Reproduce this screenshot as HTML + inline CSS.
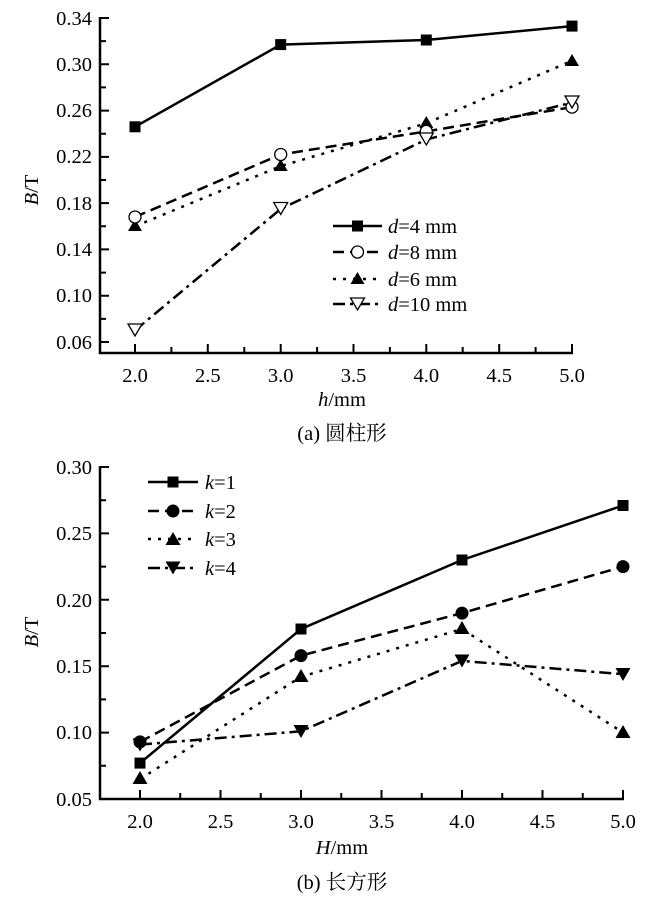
<!DOCTYPE html>
<html><head><meta charset="utf-8"><style>
body{margin:0;background:#fff}
svg{display:block}
text{font-family:"Liberation Serif","Noto Serif CJK SC","Noto Sans CJK SC",serif;fill:#000}
.t{font-size:20.5px}
.l{font-size:20.5px}
</style></head><body>
<svg width="650" height="901" viewBox="0 0 650 901" xmlns="http://www.w3.org/2000/svg">
<g stroke="#000" stroke-width="2.5" fill="none">
<path d="M100,17 V353 H573"/>
<path stroke-width="2" d="M100,18h9M100,64.3h9M100,110.6h9M100,156.9h9M100,203.1h9M100,249.4h9M100,295.7h9M100,342h9
M100,41.1h6M100,87.4h6M100,133.7h6M100,180h6M100,226.3h6M100,272.6h6M100,318.9h6
M135,353v-9M207.8,353v-9M280.7,353v-9M353.5,353v-9M426.3,353v-9M499.2,353v-9M572,353v-9
M171.4,353v-6M244.3,353v-6M317.1,353v-6M389.9,353v-6M462.7,353v-6M535.6,353v-6"/>
<polyline points="135,126.8 280.7,44.6 426.3,40 572,26.1"/>
<polyline stroke-dasharray="11,6" points="135,217 280.7,154.5 426.3,131.4 572,107.1"/>
<polyline stroke-dasharray="3,7" points="135,226.3 280.7,166.1 426.3,123.3 572,60.8"/>
<polyline stroke-dasharray="12,5,3,5" points="135,330.4 280.7,209 426.3,139.5 572,102.5"/>
<path d="M333,226H382"/>
<path stroke-dasharray="11,6" d="M333,252H382"/>
<path stroke-dasharray="3,7" d="M333,279H382"/>
<path stroke-dasharray="12,5,3,5" d="M333,304H382"/>

<path d="M100,466 V799 H624"/>
<path stroke-width="2" d="M100,467h9M100,533.4h9M100,599.8h9M100,666.2h9M100,732.6h9M100,799h9
M100,500.2h6M100,566.6h6M100,633h6M100,699.4h6M100,765.8h6
M140,799v-9M220.5,799v-9M301,799v-9M381.5,799v-9M462,799v-9M542.5,799v-9M623,799v-9
M180.25,799v-6M260.75,799v-6M341.25,799v-6M421.75,799v-6M502.25,799v-6M582.75,799v-6"/>
<polyline points="140,763.1 301,629 462,560 623,505.5"/>
<polyline stroke-dasharray="11,6" points="140,741.9 301,655.6 462,613.1 623,566.6"/>
<polyline stroke-dasharray="3,7" points="140,779.1 301,676.8 462,629 623,732.6"/>
<polyline stroke-dasharray="12,5,3,5" points="140,744.6 301,731.3 462,660.9 623,674.2"/>
<path d="M148,482H198"/>
<path stroke-dasharray="11,6" d="M148,511H198"/>
<path stroke-dasharray="3,7" d="M148,539H198"/>
<path stroke-dasharray="12,5,3,5" d="M148,568H198"/>
</g>

<g fill="#000">
<rect x="129.5" y="121.3" width="11" height="11"/><rect x="275.2" y="39.1" width="11" height="11"/><rect x="420.8" y="34.5" width="11" height="11"/><rect x="566.5" y="20.6" width="11" height="11"/>
<rect x="352" y="220.5" width="11" height="11"/>
<path d="M135,219l7,12h-14zM280.7,159l7,12h-14zM426.3,116l7,12h-14zM572,54l7,12h-14zM357.5,272l7,12h-14z"/>
</g>
<g fill="#fff" stroke="#000" stroke-width="1.3">
<circle cx="135" cy="217" r="6"/><circle cx="280.7" cy="154.5" r="6"/><circle cx="426.3" cy="131.4" r="6"/><circle cx="572" cy="107.1" r="6"/>
<circle cx="357.5" cy="252" r="6"/>
<path d="M128,324h14l-7,12zM273.7,202.5h14l-7,12zM419.3,133h14l-7,12zM565,96h14l-7,12zM350.5,298h14l-7,12z"/>
</g>

<g fill="#000">
<rect x="134.5" y="757.6" width="11" height="11"/><rect x="295.5" y="623.5" width="11" height="11"/><rect x="456.5" y="554.5" width="11" height="11"/><rect x="617.5" y="500" width="11" height="11"/>
<rect x="167.5" y="476.5" width="11" height="11"/>
<circle cx="140" cy="741.9" r="6.5"/><circle cx="301" cy="655.6" r="6.5"/><circle cx="462" cy="613.1" r="6.5"/><circle cx="623" cy="566.6" r="6.5"/>
<circle cx="173" cy="511" r="6.5"/>
<path d="M140,771l7.5,13h-15zM301,669l7.5,13h-15zM462,621l7.5,13h-15zM623,725l7.5,13h-15zM173,532l7.5,13h-15z"/>
<path d="M132.5,738.5h15l-7.5,13zM293.5,725h15l-7.5,13zM454.5,654.5h15l-7.5,13zM615.5,668h15l-7.5,13zM165.5,561.5h15l-7.5,13z"/>
</g>

<g class="t" text-anchor="end">
<text x="92" y="25">0.34</text><text x="92" y="71">0.30</text><text x="92" y="117">0.26</text><text x="92" y="163">0.22</text>
<text x="92" y="210">0.18</text><text x="92" y="256">0.14</text><text x="92" y="302">0.10</text><text x="92" y="349">0.06</text>
</g>
<g class="t" text-anchor="middle">
<text x="135" y="382">2.0</text><text x="207.8" y="382">2.5</text><text x="280.7" y="382">3.0</text><text x="353.5" y="382">3.5</text>
<text x="426.3" y="382">4.0</text><text x="499.2" y="382">4.5</text><text x="572" y="382">5.0</text>
<text x="342" y="406"><tspan font-style="italic">h</tspan>/mm</text>
<text x="342" y="440">(a) 圆柱形</text>
</g>
<text class="t" transform="translate(38,190) rotate(-90)" text-anchor="middle"><tspan font-style="italic">B</tspan>/T</text>
<g class="l">
<text x="388" y="233"><tspan font-style="italic">d</tspan>=4 mm</text>
<text x="388" y="259"><tspan font-style="italic">d</tspan>=8 mm</text>
<text x="388" y="286"><tspan font-style="italic">d</tspan>=6 mm</text>
<text x="388" y="311"><tspan font-style="italic">d</tspan>=10 mm</text>
</g>

<g class="t" text-anchor="end">
<text x="92" y="474">0.30</text><text x="92" y="540">0.25</text><text x="92" y="607">0.20</text>
<text x="92" y="673">0.15</text><text x="92" y="739">0.10</text><text x="92" y="806">0.05</text>
</g>
<g class="t" text-anchor="middle">
<text x="140" y="828">2.0</text><text x="220.5" y="828">2.5</text><text x="301" y="828">3.0</text><text x="381.5" y="828">3.5</text>
<text x="462" y="828">4.0</text><text x="542.5" y="828">4.5</text><text x="623" y="828">5.0</text>
<text x="342" y="854"><tspan font-style="italic">H</tspan>/mm</text>
<text x="342" y="889">(b) 长方形</text>
</g>
<text class="t" transform="translate(38,632) rotate(-90)" text-anchor="middle"><tspan font-style="italic">B</tspan>/T</text>
<g class="l">
<text x="205" y="489"><tspan font-style="italic">k</tspan>=1</text>
<text x="205" y="518"><tspan font-style="italic">k</tspan>=2</text>
<text x="205" y="546"><tspan font-style="italic">k</tspan>=3</text>
<text x="205" y="575"><tspan font-style="italic">k</tspan>=4</text>
</g>
</svg>
</body></html>
